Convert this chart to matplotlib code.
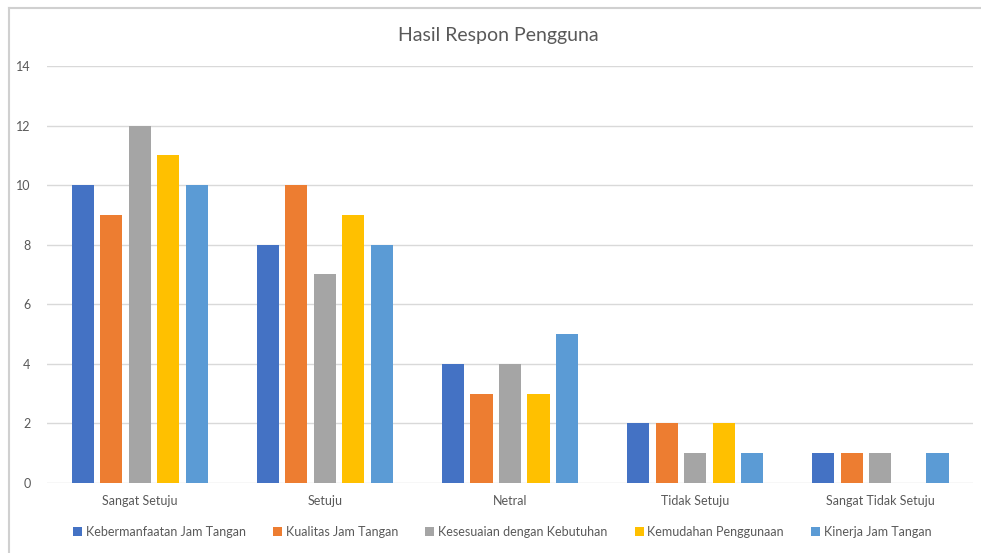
import matplotlib.pyplot as plt
import numpy as np
from matplotlib.lines import Line2D

plt.rcParams['font.family'] = ['Lato', 'DejaVu Sans']

kategori = ["Sangat Setuju", "Setuju", "Netral", "Tidak Setuju", "Sangat Tidak Setuju"]
seri = ["Kebermanfaatan Jam Tangan", "Kualitas Jam Tangan",
        "Kesesuaian dengan Kebutuhan", "Kemudahan Penggunaan", "Kinerja Jam Tangan"]
kebermanfaatan = [10, 8, 4, 2, 1]
kualitas = [9, 10, 3, 2, 1]
kesesuaian = [12, 7, 4, 1, 1]
kemudahan = [11, 9, 3, 2, 0]
kinerja = [10, 8, 5, 1, 1]
warna = ["#4472C4", "#ED7D31", "#A5A5A5", "#FFC000", "#5B9BD5"]

nilai = [kebermanfaatan, kualitas, kesesuaian, kemudahan, kinerja]
teks = "#595959"

fig = plt.figure(figsize=(9.81, 5.53), dpi=100)
ax = fig.add_axes([0.048, 0.1266, 0.9438, 0.7541])

x = np.arange(len(kategori))
pitch = 0.154
lebar = 0.12
for i, (nama, v, c) in enumerate(zip(seri, nilai, warna)):
    ax.bar(x + (i - 2) * pitch, v, width=lebar, color=c, label=nama, zorder=3)

ax.set_xlim(-0.5, len(kategori) - 0.5)
ax.set_ylim(0, 14)
ax.set_yticks(range(0, 15, 2))
ax.set_xticks(x)
ax.set_xticklabels(kategori)
ax.tick_params(axis='both', length=0, colors=teks, labelsize=9)
ax.tick_params(axis='y', pad=12)
ax.tick_params(axis='x', pad=9)
ax.grid(axis='y', color="#D9D9D9", linewidth=1, zorder=0)
for s in ax.spines.values():
    s.set_visible(False)

fig.text(0.508, 0.936, "Hasil Respon Pengguna", ha='center', va='center',
         fontsize=14, color=teks)

leg = fig.legend(loc='center', bbox_to_anchor=(0.512, 0.038), ncol=5, frameon=False,
                 fontsize=9, handlelength=0.7, handleheight=0.7, handletextpad=0.3,
                 columnspacing=2.2, labelcolor=teks)

# bingkai chart
fig.add_artist(Line2D([0.009, 1.0], [0.985, 0.985], color="#D0D0D0", linewidth=1.5,
                      transform=fig.transFigure))
fig.add_artist(Line2D([0.009, 0.009], [0.0, 0.985], color="#D0D0D0", linewidth=1.5,
                      transform=fig.transFigure))

fig.savefig("out.png", dpi=100)
